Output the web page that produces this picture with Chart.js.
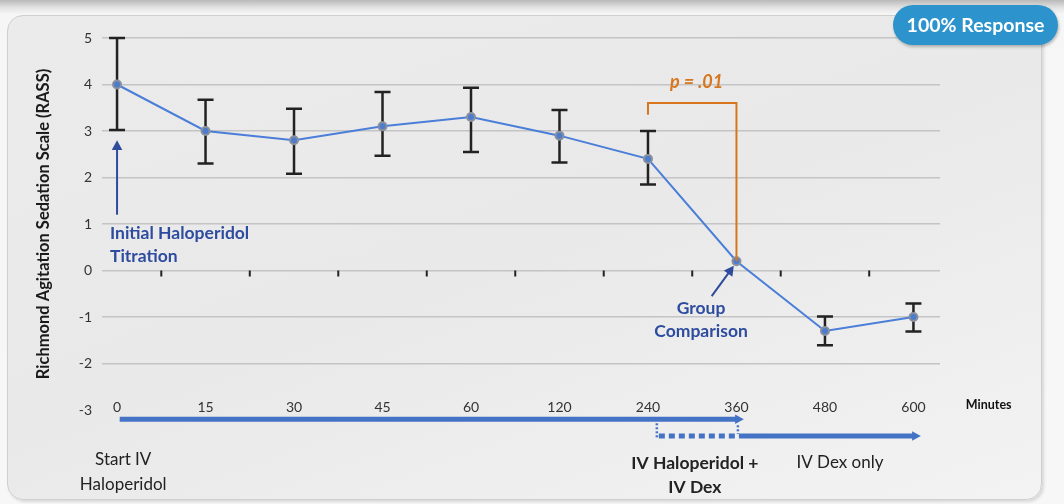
<!DOCTYPE html>
<html>
<head>
<meta charset="utf-8">
<script src="https://cdn.jsdelivr.net/npm/chart.js@4"></script>
<style>
  html, body { margin: 0; padding: 0; }
  body {
    width: 1064px; height: 504px; overflow: hidden; position: relative;
    background: linear-gradient(#b9b9b9 0px, #e4e4e4 8px, #f6f6f6 14px, #f7f7f7 100%);
    font-family: Lato, "Open Sans", sans-serif;
  }
  .panel {
    position: absolute; left: 7px; top: 15px; width: 1033px; height: 483px;
    border-radius: 16px; border: 1px solid #cfcfcf;
    background: linear-gradient(160deg, #ebebeb 0%, #e9e9e9 50%, #f3f3f3 100%);
    box-shadow: 2px 2px 3px rgba(0,0,0,0.12);
  }
  .badge {
    position: absolute; left: 893px; top: 5px; width: 165px; height: 40px;
    border-radius: 20px; background: #2d93cc; color: #fff;
    font: bold 19.5px Lato, sans-serif; line-height: 40px; text-align: center;
    box-shadow: 1px 2px 3px rgba(0,0,0,0.25);
  }
  canvas { position: absolute; left: 0; top: 0; }
</style>
</head>
<body>
<div class="panel"></div>
<canvas id="chart" width="1064" height="504"></canvas>
<div class="badge">100% Response</div>
<script>
const minutes = ["0", "15", "30", "45", "60", "120", "240", "360", "480", "600"];
const rassMean = [4.0, 3.0, 2.8, 3.1, 3.3, 2.9, 2.4, 0.2, -1.3, -1.0];
const errHigh = [5.0, 3.67, 3.48, 3.84, 3.93, 3.45, 3.0, null, -0.99, -0.71];
const errLow = [3.02, 2.3, 2.08, 2.47, 2.55, 2.32, 1.85, null, -1.61, -1.31];
const yTicks = [-3, -2, -1, 0, 1, 2, 3, 4, 5];

const FONT = "Lato, 'Open Sans', sans-serif";
const BLUE_TXT = "#2e4c9f";
const ORANGE = "#d8761e";
const ARROW_BLUE = "#4472c4";

function arrowHead(ctx, x1, y1, x2, y2, size) {
    const a = Math.atan2(y2 - y1, x2 - x1);
    ctx.beginPath();
    ctx.moveTo(x2, y2);
    ctx.lineTo(x2 - size * Math.cos(a - 0.5), y2 - size * Math.sin(a - 0.5));
    ctx.lineTo(x2 - size * Math.cos(a + 0.5), y2 - size * Math.sin(a + 0.5));
    ctx.closePath();
    ctx.fill();
}

const errorBars = {
    id: "errorBars",
    beforeDatasetsDraw(chart) {
        const { ctx, scales: { x, y } } = chart;
        ctx.save();
        ctx.strokeStyle = "#222";
        ctx.lineWidth = 2.5;
        minutes.forEach((_, i) => {
            if (errHigh[i] == null) return;
            const px = x.getPixelForValue(i);
            const top = y.getPixelForValue(errHigh[i]);
            const bot = y.getPixelForValue(errLow[i]);
            ctx.beginPath();
            ctx.moveTo(px, top); ctx.lineTo(px, bot);
            ctx.moveTo(px - 8, top); ctx.lineTo(px + 8, top);
            ctx.moveTo(px - 8, bot); ctx.lineTo(px + 8, bot);
            ctx.stroke();
        });
        // small tick marks on the zero line
        const y0 = y.getPixelForValue(0);
        ctx.lineWidth = 2;
        for (let i = 0; i < minutes.length - 1; i++) {
            const px = x.getPixelForValue(i + 0.5);
            ctx.beginPath();
            ctx.moveTo(px, y0); ctx.lineTo(px, y0 + 6);
            ctx.stroke();
        }
        ctx.restore();
    },
};

const annotations = {
    id: "annotations",
    afterDatasetsDraw(chart) {
        const { ctx, scales: { x, y } } = chart;
        ctx.save();
        ctx.textBaseline = "middle";

        // x category labels along the -3 line
        ctx.fillStyle = "#333";
        ctx.font = `14px ${FONT}`;
        ctx.textAlign = "center";
        const yl = y.getPixelForValue(-3) - 3;
        minutes.forEach((m, i) => ctx.fillText(m, x.getPixelForValue(i), yl));
        ctx.font = `bold 12.5px ${FONT}`;
        ctx.fillStyle = "#111";
        ctx.fillText("Minutes", x.getPixelForValue(9.85), yl - 2);

        // initial titration arrow
        ctx.strokeStyle = "#2f4b9c";
        ctx.fillStyle = "#2f4b9c";
        ctx.lineWidth = 2;
        const ax = x.getPixelForValue(0);
        ctx.beginPath();
        ctx.moveTo(ax, y.getPixelForValue(1.2));
        ctx.lineTo(ax, y.getPixelForValue(2.75));
        ctx.stroke();
        arrowHead(ctx, ax, y.getPixelForValue(1.2), ax, y.getPixelForValue(2.8), 11);

        ctx.fillStyle = BLUE_TXT;
        ctx.font = `bold 17.5px ${FONT}`;
        ctx.textAlign = "left";
        ctx.fillText("Initial Haloperidol", x.getPixelForValue(-0.08), y.getPixelForValue(0.79));
        ctx.fillText("Titration", x.getPixelForValue(-0.08), y.getPixelForValue(0.3));

        // group comparison
        ctx.textAlign = "center";
        ctx.fillText("Group", x.getPixelForValue(6.6), y.getPixelForValue(-0.82));
        ctx.fillText("Comparison", x.getPixelForValue(6.6), y.getPixelForValue(-1.31));
        const gx1 = x.getPixelForValue(6.72), gy1 = y.getPixelForValue(-0.55);
        const gx2 = x.getPixelForValue(6.97), gy2 = y.getPixelForValue(0.1);
        ctx.fillStyle = "#2f4b9c";
        ctx.beginPath();
        ctx.moveTo(gx1, gy1); ctx.lineTo(gx1 + (gx2 - gx1) * 0.8, gy1 + (gy2 - gy1) * 0.8);
        ctx.stroke();
        arrowHead(ctx, gx1, gy1, gx2, gy2, 11);

        // p-value bracket
        ctx.strokeStyle = ORANGE;
        ctx.lineWidth = 2;
        const bl = x.getPixelForValue(6), br = x.getPixelForValue(7);
        const bt = y.getPixelForValue(3.6);
        ctx.beginPath();
        ctx.moveTo(bl, y.getPixelForValue(3.35));
        ctx.lineTo(bl, bt);
        ctx.lineTo(br, bt);
        ctx.lineTo(br, y.getPixelForValue(rassMean[7]));
        ctx.stroke();
        ctx.fillStyle = ORANGE;
        ctx.font = `italic bold 18px ${FONT}`;
        ctx.fillText("p = .01", x.getPixelForValue(6.55), y.getPixelForValue(4.05));

        // treatment timeline arrows
        ctx.strokeStyle = ARROW_BLUE;
        ctx.fillStyle = ARROW_BLUE;
        const r1 = y.getPixelForValue(-3.2), r2 = y.getPixelForValue(-3.56);
        const t0 = x.getPixelForValue(0.03), t6 = x.getPixelForValue(6.1);
        const t7 = x.getPixelForValue(7.05), t9 = x.getPixelForValue(9.05);
        ctx.lineWidth = 5;
        ctx.beginPath(); ctx.moveTo(t0, r1); ctx.lineTo(t7 - 4, r1); ctx.stroke();
        arrowHead(ctx, t7 - 12, r1, t7 + 3, r1, 10);
        ctx.beginPath(); ctx.moveTo(t7 - 2, r2); ctx.lineTo(t9 - 4, r2); ctx.stroke();
        arrowHead(ctx, t9 - 12, r2, t9 + 3, r2, 10);
        ctx.setLineDash([6, 4]);
        ctx.beginPath(); ctx.moveTo(t6 + 2, r2); ctx.lineTo(t7 - 4, r2); ctx.stroke();
        ctx.lineWidth = 2.5;
        ctx.setLineDash([2, 2]);
        ctx.beginPath(); ctx.moveTo(t6, r1 + 4); ctx.lineTo(t6, r2 + 2); ctx.stroke();
        ctx.beginPath(); ctx.moveTo(t7 - 3, r1 + 6); ctx.lineTo(t7 - 3, r2 - 2); ctx.stroke();
        ctx.setLineDash([]);

        // timeline captions
        ctx.fillStyle = "#222";
        ctx.font = `17px ${FONT}`;
        ctx.fillText("Start IV", x.getPixelForValue(0.07), 460);
        ctx.fillText("Haloperidol", x.getPixelForValue(0.07), 485);
        ctx.fillText("IV Dex only", x.getPixelForValue(8.17), 463);
        ctx.font = `bold 17.5px ${FONT}`;
        ctx.fillText("IV Haloperidol +", x.getPixelForValue(6.53), 463);
        ctx.fillText("IV Dex", x.getPixelForValue(6.53), 487);

        ctx.restore();
    },
};

new Chart(document.getElementById("chart"), {
    type: "line",
    data: {
        datasets: [{
            data: minutes.map((_, i) => ({ x: i, y: rassMean[i] })),
            borderColor: "#4a7ed8",
            borderWidth: 2,
            tension: 0,
            pointRadius: 4,
            pointBorderWidth: 2,
            pointBorderColor: "#8a919c",
            pointBackgroundColor: "#4d7ccf",
        }],
    },
    options: {
        responsive: false,
        animation: false,
        layout: { padding: { left: 34, top: 38, right: 124, bottom: 94 } },
        plugins: { legend: { display: false }, tooltip: { enabled: false } },
        scales: {
            x: { type: "linear", min: -0.17, max: 9.3, display: false },
            y: {
                min: -3,
                max: 5,
                afterBuildTicks: (s) => { s.ticks = yTicks.map((v) => ({ value: v })); },
                afterFit: (s) => { s.width = 68; },
                ticks: { color: "#333", font: { size: 14, family: FONT }, padding: 10 },
                grid: {
                    drawTicks: false,
                    lineWidth: 1.5,
                    color: (c) => (c.tick && c.tick.value === -3 ? "rgba(0,0,0,0)" : "#c4c4c4"),
                },
                border: { display: false },
                title: {
                    display: true,
                    text: "Richmond Agitation Sedation Scale (RASS)",
                    color: "#1a1a1a",
                    font: { size: 16.5, weight: "bold", family: FONT },
                    padding: { top: 0, bottom: 4 },
                },
            },
        },
    },
    plugins: [errorBars, annotations],
});
</script>
</body>
</html>
